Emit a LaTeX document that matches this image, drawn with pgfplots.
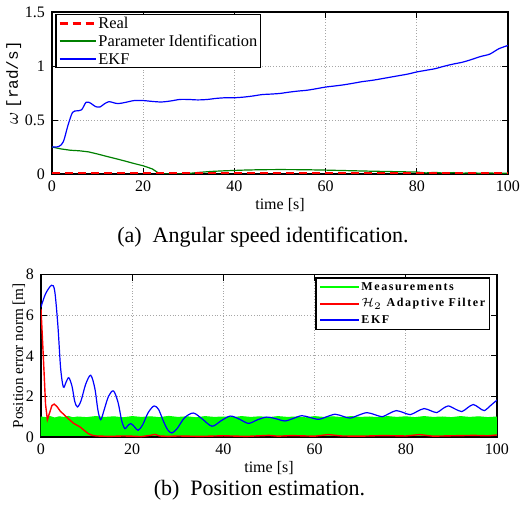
\documentclass[border=0pt]{standalone}
\usepackage{fontspec}
\setmainfont{Liberation Serif}
\newfontfamily\legfont[LetterSpace=13]{Liberation Serif}
\newfontfamily\unitfont{Liberation Mono}
\usepackage{pgfplots}
\pgfplotsset{compat=1.18}

\pgfplotsset{
  matlab/.style={
    scale only axis,
    width=228pt,
    xmin=0, xmax=100,
    xtick={0,20,...,100},
    grid=major,
    major grid style={densely dotted, gray!70, line width=0.4pt},
    axis line style={line width=0.8pt},
    tick style={black, line width=0.5pt},
    major tick length=3pt,
    tick label style={font=\fontsize{8}{9}\selectfont},
    label style={font=\fontsize{8}{9}\selectfont},
    /pgf/number format/assume math mode=true,
    xlabel={time [s]},
    xlabel style={yshift=3.8pt},
  },
  leg/.style={legend image code/.code={\draw[#1] (0pt,0pt) -- (18pt,0pt);}},
  legb/.style={legend image code/.code={\draw[#1] (0pt,0pt) -- (19.5pt,0pt);}},
}

\begin{document}
\begin{tikzpicture}
\useasboundingbox (0,0) rectangle (260.5pt,-257pt);

% (a) angular speed
\begin{axis}[matlab,
  at={(26pt,-6pt)}, anchor=north west,
  height=81pt,
  ymin=0, ymax=1.5,
  ytick={0,0.5,1,1.5},
  yticklabels={0,0.5,1,1.5},
  ylabel={{\fontsize{9}{9}\selectfont$\omega$} {\unitfont\fontsize{8}{9}\selectfont[rad/s]}},
  ylabel style={yshift=-5pt, xshift=5pt},
  legend style={at={(0.007,0.99)}, anchor=north west, line width=0.8pt,
    font=\fontsize{8.2}{8.2}\selectfont, inner xsep=1pt, inner ysep=0.8pt,
    nodes={inner sep=0.6pt, text height=5.6pt, text depth=0.4pt}, row sep=1.7pt},
  legend cell align=left,
]
\addlegendimage{leg={red, line width=1.6pt, dash pattern=on 4pt off 2.5pt}}
\addlegendentry{Real}
\addlegendimage{leg={green!50!black, line width=0.9pt}}
\addlegendentry{Parameter Identification}
\addlegendimage{leg={blue, line width=0.9pt}}
\addlegendentry{EKF}
\addplot[forget plot, green!50!black, line width=0.6pt] coordinates {
(0,0.25) (2,0.232) (4,0.22) (6,0.215) (8,0.205) (10,0.185) (12,0.163) (14,0.142)
(16,0.12) (18,0.097) (20,0.076) (22,0.047) (23.5,0.005) (24,0) (28,0) (30,0.005)
(32,0.014) (35,0.024) (38,0.03) (42,0.036) (46,0.04) (50,0.041) (55,0.04) (60,0.036)
(65,0.031) (70,0.026) (75,0.022) (80,0.018) (82,0.01) (84,0.015) (86,0.008) (88,0.013)
(90,0.007) (92,0.012) (94,0.006) (96,0.01) (98,0.005) (100,0.008)};
\addplot[forget plot, red, line width=1.6pt, dash pattern=on 4pt off 2.5pt] coordinates {(0,0) (100,0)};
\addplot[forget plot, blue, line width=0.6pt, smooth] coordinates {
(0,0.25) (1.5,0.255) (2.5,0.3) (3.5,0.45) (4.5,0.57) (5.5,0.585) (6.5,0.595) (7.5,0.665)
(8.5,0.655) (9.5,0.625) (10.5,0.62) (11.5,0.65) (12.5,0.67) (13.5,0.66) (14.5,0.652)
(16,0.662) (18,0.68) (20,0.68) (22,0.672) (24,0.667) (26,0.676) (28,0.69) (30,0.69)
(32,0.686) (34,0.69) (36,0.7) (38,0.706) (40,0.706) (42,0.712) (44,0.722) (46,0.735)
(48,0.74) (50,0.746) (52,0.758) (54,0.768) (56,0.776) (58,0.79) (60,0.805) (62,0.815)
(64,0.826) (66,0.84) (68,0.855) (70,0.866) (72,0.88) (74,0.895) (76,0.91) (78,0.925)
(80,0.945) (82,0.96) (84,0.975) (86,0.998) (88,1.018) (90,1.035) (92,1.06) (94,1.088)
(96,1.11) (98,1.16) (100,1.19)};
\end{axis}

\node[font=\fontsize{11}{12}\selectfont] at (131.5pt,-118.5pt) {(a)\ \ Angular speed identification.};

% (b) position
\begin{axis}[matlab,
  at={(20.5pt,-137.25pt)}, anchor=north west,
  height=81.25pt,
  ymin=0, ymax=8,
  ytick={0,2,4,6,8},
  ylabel={Position error norm [m]},
  ylabel style={yshift=-6.5pt, font=\fontsize{7.6}{9}\selectfont},
  legend style={at={(0.985,0.985)}, anchor=north east, line width=0.8pt,
    font=\legfont\bfseries\fontsize{6}{6}\selectfont, inner xsep=1.5pt, inner ysep=1pt,
    nodes={inner sep=0.6pt, text height=4.6pt, text depth=1.4pt}, row sep=1.1pt},
  legend cell align=left,
]
\addlegendimage{legb={green, line width=1pt}}
\addlegendentry{Measurements}
\addlegendimage{legb={red, line width=1pt}}
\addlegendentry{$\mathcal{H}_2$ Adaptive Filter}
\addlegendimage{legb={blue, line width=1pt}}
\addlegendentry{EKF}
\addplot[forget plot, draw=green, fill=green, line width=0.6pt] coordinates {
(0,0.05) (0,0.98) (1,0.95) (2,1.0) (3,0.93) (4,0.99) (5,0.96) (6,1.01) (7,0.94) (8,0.98)
(10,0.95) (12,1.0) (14,0.96) (16,0.99) (18,0.94) (20,1.0) (22,0.96) (24,0.99) (26,0.95)
(28,1.01) (30,0.96) (32,0.99) (34,0.94) (36,1.0) (38,0.96) (40,0.98) (42,0.95) (44,1.0)
(46,0.96) (48,0.99) (50,0.95) (52,1.0) (54,0.96) (56,0.98) (58,0.94) (60,1.0) (62,0.96)
(64,0.99) (66,0.95) (68,1.0) (70,0.96) (72,0.98) (74,0.95) (76,1.0) (78,0.96) (80,0.99)
(82,0.95) (84,1.0) (86,0.96) (88,0.98) (90,0.95) (92,1.0) (94,0.96) (96,0.99) (98,0.95)
(100,0.98) (100,0.05) (0,0.05)};
\addplot[forget plot, black, line width=0.6pt] coordinates {(0,0.01) (100,0.01)};
\addplot[forget plot, red, line width=0.7pt] coordinates {
(0,6.3) (0.5,4.0) (1.0,1.6) (1.4,0.85) (1.9,1.2) (2.4,1.55) (2.9,1.62) (3.5,1.5)
(4.2,1.28) (4.9,1.13) (6,0.9) (7.1,0.68) (8.6,0.49) (9.5,0.32) (10.4,0.16) (11.3,0.08)
(12.2,0.05) (15,0.03) (18,0.05) (20,0.04) (22,0.02) (24,0.08) (25,0.13) (26,0.05) (28,0.03)
(30,0.05) (35,0.03) (40,0.06) (45,0.03) (48,0.06) (50,0.08) (52,0.04) (55,0.07) (60,0.04)
(63,0.12) (66,0.05) (70,0.04) (75,0.07) (80,0.05) (83,0.12) (86,0.04) (90,0.06)
(95,0.08) (98,0.06) (100,0.1)};
\addplot[forget plot, blue, line width=0.6pt, smooth] coordinates {
(0,6.4) (1,7.05) (2.3,7.47) (3,7.2) (3.7,5.5) (4.3,3.4) (4.9,2.46) (5.5,2.7) (6.1,2.92)
(6.8,2.5) (7.4,1.75) (8.0,1.48) (8.8,1.8) (9.8,2.6) (10.9,3.04) (11.8,2.4) (12.5,1.3)
(13.1,0.85) (13.8,1.3) (14.8,2.0) (15.9,2.27) (16.9,1.7) (17.7,0.8) (18.4,0.41) (19.0,0.55)
(19.7,0.66) (20.5,0.5) (21.3,0.33) (22.3,0.6) (23.5,1.2) (24.8,1.53) (25.8,1.35) (26.8,0.8)
(27.8,0.35) (28.7,0.2) (29.8,0.4) (31.5,0.95) (33.4,1.18) (35.3,0.9) (37.5,0.53) (39.5,0.8)
(41.5,1.03) (43.5,0.88) (45.5,0.67) (47.5,0.85) (49.5,0.98) (51.5,0.9) (53.5,0.79)
(55.4,0.92) (57.2,1.05) (59,0.96) (60.9,0.87) (62.7,1.0) (64.5,1.12) (66.2,1.02)
(67.8,0.93) (69.7,1.08) (71.5,1.2) (73.2,1.1) (74.8,1.0) (76.4,1.16) (77.9,1.3)
(79.5,1.2) (81,1.1) (82.5,1.26) (84,1.4) (85.4,1.3) (86.8,1.2) (88,1.38) (89.3,1.53)
(90.8,1.38) (92.3,1.25) (93.6,1.45) (94.8,1.6) (96,1.45) (97.2,1.3) (98.6,1.55) (100,1.82)};
\end{axis}

\node[font=\fontsize{11}{12}\selectfont] at (129.75pt,-245pt) {(b)\ \ Position estimation.};
\end{tikzpicture}
\end{document}
